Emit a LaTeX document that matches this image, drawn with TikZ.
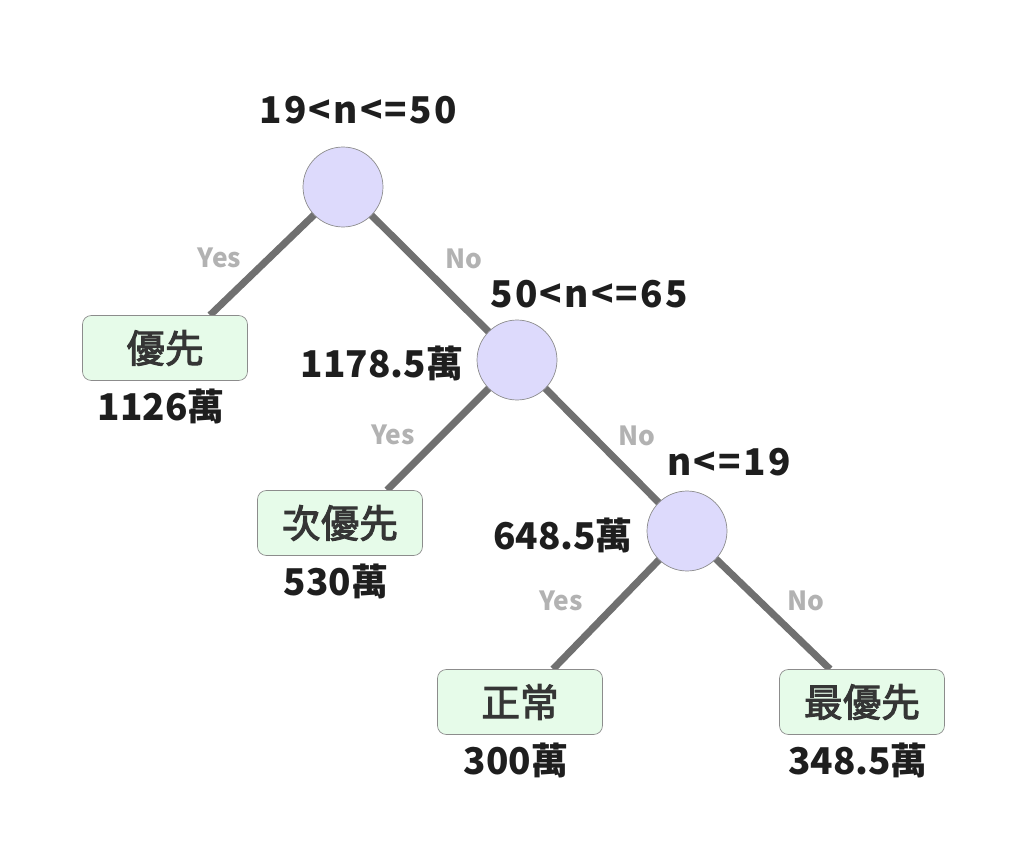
\documentclass[tikz,border=0pt]{standalone}
\usepackage{fontspec}
\setmainfont{Noto Sans CJK TC}
\usepackage{tikz}
\usetikzlibrary{positioning, calc, backgrounds}
\definecolor{splitfill}{RGB}{221, 218, 252}
\definecolor{leaffill}{RGB}{230, 251, 233}
\definecolor{rimgrey}{RGB}{140, 140, 140}
\definecolor{edgegrey}{RGB}{112, 112, 112}
\definecolor{anslight}{RGB}{178, 178, 178}
\definecolor{textdark}{RGB}{30, 30, 30}

\begin{document}
\begin{tikzpicture}[
    x=0.02cm, y=-0.02cm,
    split/.style={circle, draw=rimgrey, fill=splitfill, minimum size=1.6cm, inner sep=0pt},
    leaf/.style={rectangle, draw=rimgrey, fill=leaffill, rounded corners=5pt, minimum width=3.3cm, minimum height=1.3cm, font=\fontsize{22}{26}\selectfont\addfontfeature{FakeBold=2.5}, text=textdark!90},
    rule/.style={font=\fontsize{21}{25}\selectfont\bfseries\addfontfeature{LetterSpace=6}, text=textdark},
    amount/.style={font=\fontsize{21}{25}\selectfont\bfseries, text=textdark},
    answer/.style={font=\fontsize{15}{18}\selectfont\bfseries, text=anslight},
    branch/.style={draw=edgegrey, line width=4pt}
]
\useasboundingbox (0,0) rectangle (1024,868);

% Nodes
\node [split] (root) at (343,187) {};
\node [split] (mid) at (517,360) {};
\node [split] (low) at (687,531) {};
\node [leaf] (first) at (165,348) {優先};
\node [leaf] (second) at (340,523) {次優先};
\node [leaf] (normal) at (520,702) {正常};
\node [leaf] (top) at (862,702) {最優先};

% Rules and amounts
\node [rule] (rroot) at (358,110) {19<n<=50};
\node [rule] (rmid) at (589,294) {50<n<=65};
\node [rule] (rlow) at (729,462) {n<=19};
\node [amount] (amid) at (382,363) {1178.5萬};
\node [amount] (alow) at (563,535) {648.5萬};
\node [amount, below=1pt of first, xshift=-0.08cm] (afirst) {1126萬};
\node [amount, below=1pt of second, xshift=-0.08cm] (asecond) {530萬};
\node [amount, below=1pt of normal, xshift=-0.08cm] (anormal) {300萬};
\node [amount, below=1pt of top, xshift=-0.08cm] (atop) {348.5萬};

% Connectors
\begin{pgfonlayer}{background}
\path [branch] (root.center) -- node[answer, xshift=-1.14cm, yshift=-0.14cm]{Yes} ($(first.north)+(45,0)$);
\path [branch] (root.center) -- node[answer, xshift=0.68cm, yshift=0.3cm]{No} (mid.center);
\path [branch] (mid.center) -- node[answer, xshift=-1.18cm, yshift=-0.2cm]{Yes} ($(second.north)+(47,0)$);
\path [branch] (mid.center) -- node[answer, xshift=0.7cm, yshift=0.2cm]{No} (low.center);
\path [branch] (low.center) -- node[answer, xshift=-1.18cm, yshift=-0.02cm]{Yes} ($(normal.north)+(33,0)$);
\path [branch] (low.center) -- node[answer, xshift=0.94cm, yshift=-0.02cm]{No} ($(top.north)+(-32,0)$);
\end{pgfonlayer}
\end{tikzpicture}
\end{document}
